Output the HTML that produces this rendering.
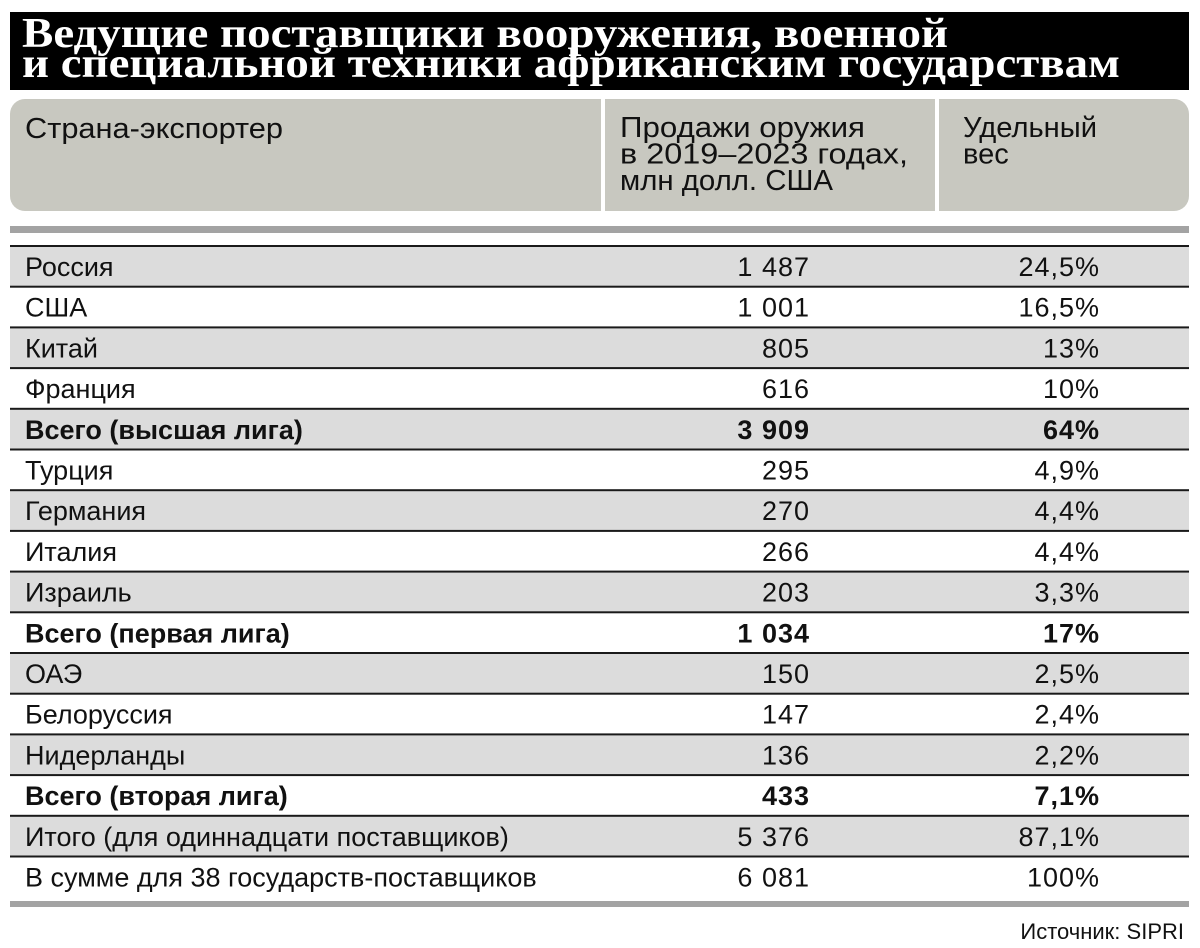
<!DOCTYPE html>
<html>
<head>
<meta charset="utf-8">
<style>
html,body{margin:0;padding:0;background:#fff;}
svg{display:block;}
.t{font-family:"Liberation Serif","Noto Serif CJK SC",serif;font-weight:bold;font-size:42px;fill:#fff;}
.h{font-family:"Liberation Sans","Noto Sans CJK SC",sans-serif;font-size:29px;fill:#111;}
.r{font-family:"Liberation Sans","Noto Sans CJK SC",sans-serif;font-size:27px;fill:#111;}
.n{letter-spacing:1px;}
.b{font-weight:bold;}
.s{font-family:"Liberation Sans","Noto Sans CJK SC",sans-serif;font-size:22px;fill:#111;}
</style>
</head>
<body>
<svg width="1200" height="948" viewBox="0 0 1200 948" xmlns="http://www.w3.org/2000/svg">
<rect x="0" y="0" width="1200" height="948" fill="#fff"/>
<!-- Title -->
<rect x="10" y="12" width="1179" height="78" fill="#000"/>
<text class="t" x="22" y="47" textLength="926" lengthAdjust="spacingAndGlyphs">Ведущие поставщики вооружения, военной</text>
<text class="t" x="22" y="77" textLength="1098" lengthAdjust="spacingAndGlyphs">и специальной техники африканским государствам</text>
<!-- Header -->
<rect x="10" y="99" width="1179" height="112" rx="15" ry="15" fill="#c8c8c0"/>
<rect x="601" y="99" width="4" height="112" fill="#fff"/>
<rect x="935" y="99" width="4" height="112" fill="#fff"/>
<text class="h" x="25" y="138" textLength="258" lengthAdjust="spacingAndGlyphs">Страна-экспортер</text>
<text class="h" x="620" y="137" textLength="245" lengthAdjust="spacingAndGlyphs">Продажи оружия</text>
<text class="h" x="620" y="163.5" textLength="288" lengthAdjust="spacingAndGlyphs">в 2019–2023 годах,</text>
<text class="h" x="620" y="190" textLength="213" lengthAdjust="spacingAndGlyphs">млн долл. США</text>
<text class="h" x="963" y="137" textLength="134" lengthAdjust="spacingAndGlyphs">Удельный</text>
<text class="h" x="963" y="163.5">вес</text>
<!-- Gray bar -->
<rect x="10" y="226" width="1179" height="7" fill="#a3a3a3"/>
<!-- Row backgrounds -->
<rect x="10" y="246" width="1179" height="40.7" fill="#dcdcdc"/>
<rect x="10" y="327.4" width="1179" height="40.7" fill="#dcdcdc"/>
<rect x="10" y="408.8" width="1179" height="40.7" fill="#dcdcdc"/>
<rect x="10" y="490.2" width="1179" height="40.7" fill="#dcdcdc"/>
<rect x="10" y="571.6" width="1179" height="40.7" fill="#dcdcdc"/>
<rect x="10" y="653" width="1179" height="40.7" fill="#dcdcdc"/>
<rect x="10" y="734.4" width="1179" height="40.7" fill="#dcdcdc"/>
<rect x="10" y="815.8" width="1179" height="40.7" fill="#dcdcdc"/>
<!-- Row lines -->
<g fill="#1a1a1a">
<rect x="10" y="245" width="1179" height="2"/>
<rect x="10" y="285.7" width="1179" height="2"/>
<rect x="10" y="326.4" width="1179" height="2"/>
<rect x="10" y="367.1" width="1179" height="2"/>
<rect x="10" y="407.8" width="1179" height="2"/>
<rect x="10" y="448.5" width="1179" height="2"/>
<rect x="10" y="489.2" width="1179" height="2"/>
<rect x="10" y="529.9" width="1179" height="2"/>
<rect x="10" y="570.6" width="1179" height="2"/>
<rect x="10" y="611.3" width="1179" height="2"/>
<rect x="10" y="652" width="1179" height="2"/>
<rect x="10" y="692.7" width="1179" height="2"/>
<rect x="10" y="733.4" width="1179" height="2"/>
<rect x="10" y="774.1" width="1179" height="2"/>
<rect x="10" y="814.8" width="1179" height="2"/>
<rect x="10" y="855.5" width="1179" height="2"/>
</g>
<!-- Row texts -->
<g>
<text class="r" x="25" y="276">Россия</text>
<text class="r n" x="810" y="276" text-anchor="end">1 487</text>
<text class="r n" x="1100" y="276" text-anchor="end">24,5%</text>

<text class="r" x="25" y="316.7">США</text>
<text class="r n" x="810" y="316.7" text-anchor="end">1 001</text>
<text class="r n" x="1100" y="316.7" text-anchor="end">16,5%</text>

<text class="r" x="25" y="357.4">Китай</text>
<text class="r n" x="810" y="357.4" text-anchor="end">805</text>
<text class="r n" x="1100" y="357.4" text-anchor="end">13%</text>

<text class="r" x="25" y="398.1">Франция</text>
<text class="r n" x="810" y="398.1" text-anchor="end">616</text>
<text class="r n" x="1100" y="398.1" text-anchor="end">10%</text>

<text class="r b" x="25" y="438.8">Всего (высшая лига)</text>
<text class="r b n" x="810" y="438.8" text-anchor="end">3 909</text>
<text class="r b n" x="1100" y="438.8" text-anchor="end">64%</text>

<text class="r" x="25" y="479.5">Турция</text>
<text class="r n" x="810" y="479.5" text-anchor="end">295</text>
<text class="r n" x="1100" y="479.5" text-anchor="end">4,9%</text>

<text class="r" x="25" y="520.2">Германия</text>
<text class="r n" x="810" y="520.2" text-anchor="end">270</text>
<text class="r n" x="1100" y="520.2" text-anchor="end">4,4%</text>

<text class="r" x="25" y="560.9">Италия</text>
<text class="r n" x="810" y="560.9" text-anchor="end">266</text>
<text class="r n" x="1100" y="560.9" text-anchor="end">4,4%</text>

<text class="r" x="25" y="601.6">Израиль</text>
<text class="r n" x="810" y="601.6" text-anchor="end">203</text>
<text class="r n" x="1100" y="601.6" text-anchor="end">3,3%</text>

<text class="r b" x="25" y="642.3">Всего (первая лига)</text>
<text class="r b n" x="810" y="642.3" text-anchor="end">1 034</text>
<text class="r b n" x="1100" y="642.3" text-anchor="end">17%</text>

<text class="r" x="25" y="683">ОАЭ</text>
<text class="r n" x="810" y="683" text-anchor="end">150</text>
<text class="r n" x="1100" y="683" text-anchor="end">2,5%</text>

<text class="r" x="25" y="723.7">Белоруссия</text>
<text class="r n" x="810" y="723.7" text-anchor="end">147</text>
<text class="r n" x="1100" y="723.7" text-anchor="end">2,4%</text>

<text class="r" x="25" y="764.4">Нидерланды</text>
<text class="r n" x="810" y="764.4" text-anchor="end">136</text>
<text class="r n" x="1100" y="764.4" text-anchor="end">2,2%</text>

<text class="r b" x="25" y="805.1">Всего (вторая лига)</text>
<text class="r b n" x="810" y="805.1" text-anchor="end">433</text>
<text class="r b n" x="1100" y="805.1" text-anchor="end">7,1%</text>

<text class="r" x="25" y="845.8">Итого (для одиннадцати поставщиков)</text>
<text class="r n" x="810" y="845.8" text-anchor="end">5 376</text>
<text class="r n" x="1100" y="845.8" text-anchor="end">87,1%</text>

<text class="r" x="25" y="886.5">В сумме для 38 государств-поставщиков</text>
<text class="r n" x="810" y="886.5" text-anchor="end">6 081</text>
<text class="r n" x="1100" y="886.5" text-anchor="end">100%</text>
</g>
<!-- Bottom bar -->
<rect x="10" y="901" width="1179" height="6" fill="#a3a3a3"/>
<!-- Source -->
<text class="s" x="1184" y="939" text-anchor="end">Источник: SIPRI</text>
</svg>
</body>
</html>
